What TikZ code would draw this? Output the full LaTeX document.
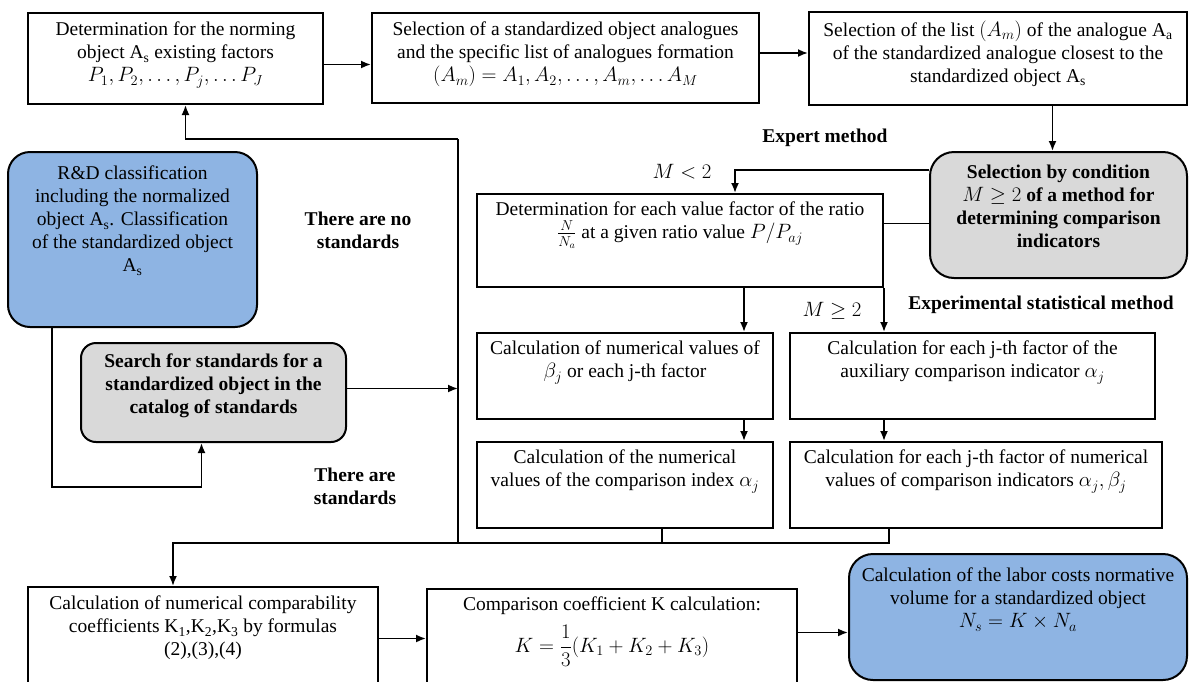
\documentclass[tikz,border=0pt]{standalone}
\usepackage{amsmath}
\usepackage{fontspec}
\setmainfont{Liberation Serif}
\usepackage{tikz}
\usetikzlibrary{positioning, arrows.meta, calc}

\newcommand{\boxfont}{\fontsize{19.5}{23}\selectfont}
\definecolor{rndblue}{RGB}{142,180,227}
\definecolor{condgray}{RGB}{217,217,217}

\tikzset{
  box/.style={draw, line width=2pt, inner sep=0pt},
  bluebox/.style={box, fill=rndblue, rounded corners=22pt},
  graybox/.style={box, fill=condgray, rounded corners=18pt},
  txt/.style={anchor=north, align=center, inner sep=0pt, font=\boxfont},
  lbl/.style={align=center, inner sep=0pt, font=\boxfont\bfseries},
  line/.style={line width=1.8pt},
  >={Latex[length=10pt,width=8pt]}
}

\begin{document}
\begin{tikzpicture}[x=1pt, y=-1pt]
\useasboundingbox (0,0) rectangle (1190,681);
\clip (0,0) rectangle (1190,681);
\fill[white] (0,0) rectangle (1190,681);

% top row
\node[box, minimum width=295pt, minimum height=91pt] (norm) at (175.5,58.5) {};
\node[txt] (normt) at ([yshift=-10pt]norm.north) {Determination for the norming\\ object A\textsubscript{s} existing factors\\ $P_1, P_2, \dots, P_j, \dots P_J$};
\node[box, minimum width=387pt, minimum height=90pt] (analog) at (565.5,58) {};
\node[txt] (analogt) at ([yshift=-10pt]analog.north) {Selection of a standardized object analogues\\ and the specific list of analogues formation\\ $(A_m) = A_1, A_2, \dots, A_m, \dots A_M$};
\node[box, minimum width=378pt, minimum height=93pt] (closest) at (998,58.5) {};
\node[txt] (closestt) at ([yshift=-10pt]closest.north) {Selection of the list $(A_m)$ of the analogue A\textsubscript{a}\\ of the standardized analogue closest to the\\ standardized object A\textsubscript{s}};

% left column
\node[bluebox, minimum width=249pt, minimum height=175pt] (rnd) at (132.5,239.5) {};
\node[txt] (rndt) at ([yshift=-15pt]rnd.north) {R\&D classification\\ including the normalized\\ object A\textsubscript{s}. Classification\\ of the standardized object\\ A\textsubscript{s}};
\node[graybox, rounded corners=15pt, minimum width=265pt, minimum height=99pt] (search) at (213.5,392.5) {};
\node[txt, font=\boxfont\bfseries] (searcht) at ([yshift=-12pt]search.north) {Search for standards for a\\ standardized object in the\\ catalog of standards};

% method choice
\node[graybox, rounded corners=24pt, minimum width=257pt, minimum height=126pt] (cond) at (1058.5,215) {};
\node[txt, font=\boxfont\bfseries] (condt) at ([yshift=-14pt]cond.north) {Selection by condition\\ $M \geq 2$ of a method for\\ determining comparison\\ indicators};
\node[box, minimum width=406pt, minimum height=93pt] (ratio) at (680,240.5) {};
\node[txt] (ratiot) at ([yshift=-9pt]ratio.north) {Determination for each value factor of the ratio\\ $\frac{N}{N_a}$ at a given ratio value $P/P_{aj}$};

% two branches
\node[box, minimum width=296pt, minimum height=86pt] (beta) at (625,376) {};
\node[txt] (betat) at ([yshift=-9pt]beta.north) {Calculation of numerical values of\\ $\beta_j$ or each j-th factor};
\node[box, minimum width=365pt, minimum height=86pt] (aux) at (972.5,376) {};
\node[txt] (auxt) at ([yshift=-9pt]aux.north) {Calculation for each j-th factor of the\\ auxiliary comparison indicator $\alpha_j$};
\node[box, minimum width=296pt, minimum height=86pt] (alpha) at (625,485) {};
\node[txt] (alphat) at ([yshift=-9pt]alpha.north) {Calculation of the numerical\\ values of the comparison index $\alpha_j$};
\node[box, minimum width=372pt, minimum height=86pt] (both) at (976,485) {};
\node[txt] (botht) at ([yshift=-9pt]both.north) {Calculation for each j-th factor of numerical\\ values of comparison indicators $\alpha_j, \beta_j$};

% bottom row
\node[box, minimum width=350pt, minimum height=103pt] (coef) at (203,638.5) {};
\node[txt] (coeft) at ([yshift=-10pt]coef.north) {Calculation of numerical comparability\\ coefficients K\textsubscript{1},K\textsubscript{2},K\textsubscript{3} by formulas\\ (2),(3),(4)};
\node[box, minimum width=370pt, minimum height=101pt] (kcalc) at (612,639.5) {};
\node[txt] (kcalct) at ([yshift=-9pt]kcalc.north) {Comparison coefficient K calculation:\\[9pt] $\displaystyle K = \frac{1}{3}(K_1 + K_2 + K_3)$};
\node[bluebox, rounded corners=24pt, minimum width=338pt, minimum height=126pt] (labor) at (1018,617) {};
\node[txt] (labort) at ([yshift=-15pt]labor.north) {Calculation of the labor costs normative\\ volume for a standardized object\\ $N_s = K \times N_a$};

% branch labels
\node[lbl] (nostd) at (358,230) {There are no\\ standards};
\node[lbl] (std) at (355,486) {There are\\ standards};
\node[lbl] (expert) at (825,138) {Expert method};
\node[font=\boxfont, inner sep=0pt] (mless) at (682,172) {$M < 2$};
\node[font=\boxfont, inner sep=0pt] (mgeq) at (832,311) {$M \geq 2$};
\node[lbl] (expstat) at (1041,305) {Experimental statistical method};

% connectors
\draw[line, ->] ([yshift=-6pt]norm.east) -- ([yshift=-6pt]norm.east -| analog.west);
\draw[line, ->] ([yshift=5pt]analog.east) -- ([yshift=5pt]analog.east -| closest.west);
\draw[line, ->] ([xshift=-6pt]cond.north |- closest.south) -- ([xshift=-6pt]cond.north);
\draw[line, ->] ([yshift=45pt]cond.west) -| ([xshift=55pt]ratio.north);
\draw[line] ([yshift=17pt]ratio.east) -- ([yshift=17pt]ratio.east -| cond.west);
\draw[line, ->] ([xshift=-30pt]beta.north east |- ratio.south) -- ([xshift=-30pt]beta.north east);
\draw[line, ->] (ratio.south east) -- (ratio.south east |- aux.north);
\draw[line, ->] ([xshift=-30pt]beta.south east) -- ([xshift=-30pt]alpha.north east);
\draw[line, ->] (aux.south -| ratio.east) -- (both.north -| ratio.east);

\coordinate (bus) at (458,543);
\coordinate (bustop) at (458,139);
\draw[line] ([xshift=37pt]alpha.south) |- (bus);
\draw[line] ([xshift=-87pt]both.south) |- (bus);
\draw[line] (bustop) -- (bus);
\draw[line, ->] (bustop) -| ([xshift=10pt]norm.south);
\draw[line, ->] (bus) -| ([xshift=-30pt]coef.north);
\draw[line, ->] ([yshift=4pt]search.east) -- ([yshift=4pt]search.east -| bus);
\draw[line, ->] ([xshift=45pt]rnd.south west) -- ++(0,159) -| ([xshift=-12pt]search.south);

\draw[line, ->] (coef.east) -- (coef.east -| kcalc.west);
\draw[line, ->] ([yshift=7pt]kcalc.east) -- ([yshift=7pt]kcalc.east -| labor.west);
\end{tikzpicture}
\end{document}
